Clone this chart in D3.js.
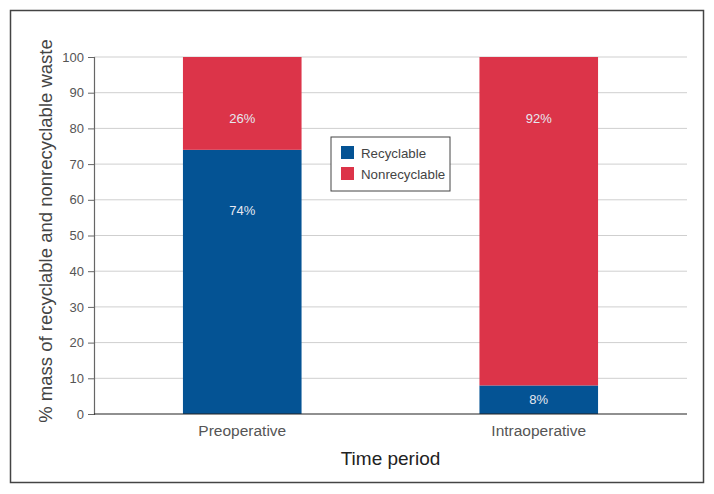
<!DOCTYPE html>
<html>
<head>
<meta charset="utf-8">
<script src="https://cdn.jsdelivr.net/npm/d3@7"></script>
<style>
  body { margin: 0; background: #fff; }
  svg text { font-family: "Liberation Sans", Arial, sans-serif; }
</style>
</head>
<body>
<div id="chart"></div>
<script>
// data
const periods = ["Preoperative", "Intraoperative"];
const recyclable = [74, 8];
const nonrecyclable = [26, 92];
const seriesNames = ["Recyclable", "Nonrecyclable"];
const yTicks = [0, 10, 20, 30, 40, 50, 60, 70, 80, 90, 100];

const width = 714, height = 494;
const margin = { left: 94, right: 27, top: 57, bottom: 80 };
const colors = { Recyclable: "#045394", Nonrecyclable: "#dc3449" };

const svg = d3.select("#chart")
    .append("svg")
    .attr("width", width)
    .attr("height", height);

// outer frame
svg.append("rect")
    .attr("x", 10.5).attr("y", 10.5)
    .attr("width", 693).attr("height", 472)
    .attr("fill", "none")
    .attr("stroke", "#444")
    .attr("stroke-width", 1.5);

const x = d3.scaleBand()
    .domain(periods)
    .range([margin.left, width - margin.right])
    .paddingInner(0.6)
    .paddingOuter(0.3);

const y = d3.scaleLinear()
    .domain([0, 100])
    .range([height - margin.bottom, margin.top]);

// gridlines
svg.append("g")
    .selectAll("line")
    .data(yTicks.filter(d => d > 0))
    .enter()
    .append("line")
    .attr("x1", margin.left)
    .attr("x2", width - margin.right)
    .attr("y1", d => y(d))
    .attr("y2", d => y(d))
    .attr("stroke", "#cfcfcf")
    .attr("stroke-width", 1);

// stacked data
const rows = periods.map((p, i) => ({ period: p, Recyclable: recyclable[i], Nonrecyclable: nonrecyclable[i] }));
const stack = d3.stack().keys(seriesNames)(rows);

const layers = svg.append("g")
    .selectAll("g")
    .data(stack)
    .enter()
    .append("g")
    .attr("fill", d => colors[d.key]);

layers.selectAll("rect")
    .data(d => d)
    .enter()
    .append("rect")
    .attr("x", d => x(d.data.period))
    .attr("width", x.bandwidth())
    .attr("y", d => y(d[1]))
    .attr("height", d => y(d[0]) - y(d[1]));

// value labels: near the top of tall segments, centred in short ones
layers.selectAll("text")
    .data(d => d)
    .enter()
    .append("text")
    .attr("x", d => x(d.data.period) + x.bandwidth() / 2)
    .attr("y", d => {
        const h = y(d[0]) - y(d[1]);
        return h > 60 ? y(d[1]) + 61 : y(d[1]) + h / 2;
    })
    .attr("dy", "0.35em")
    .attr("text-anchor", "middle")
    .attr("fill", "#e6e8f0")
    .attr("font-size", 13)
    .text(d => (d[1] - d[0]) + "%");

// y axis
const yAxis = svg.append("g")
    .attr("transform", `translate(${margin.left},0)`)
    .call(d3.axisLeft(y).tickValues(yTicks).tickSize(6).tickPadding(4));
yAxis.select(".domain").attr("stroke", "#666").attr("stroke-width", 1.2);
yAxis.selectAll(".tick line").attr("stroke", "#666");
yAxis.selectAll(".tick text")
    .attr("font-size", 13)
    .attr("fill", "#555")
    .style("font-family", "Liberation Sans, Arial, sans-serif");

// x axis
const xAxis = svg.append("g")
    .attr("transform", `translate(0,${height - margin.bottom})`)
    .call(d3.axisBottom(x).tickSize(0).tickPadding(11));
xAxis.select(".domain").attr("stroke", "#222").attr("stroke-width", 1.2)
    .attr("d", `M${margin.left},0H${width - margin.right}`);
xAxis.selectAll(".tick text")
    .attr("font-size", 15.5)
    .attr("fill", "#555")
    .style("font-family", "Liberation Sans, Arial, sans-serif");

// axis titles
svg.append("text")
    .attr("x", (margin.left + width - margin.right) / 2)
    .attr("y", 465)
    .attr("text-anchor", "middle")
    .attr("font-size", 19)
    .attr("fill", "#222")
    .text("Time period");

svg.append("text")
    .attr("transform", `translate(52,231) rotate(-90)`)
    .attr("text-anchor", "middle")
    .attr("font-size", 18.5)
    .attr("fill", "#444")
    .text("% mass of recyclable and nonrecyclable waste");

// legend
const legend = svg.append("g").attr("transform", "translate(331,137)");
legend.append("rect")
    .attr("width", 119).attr("height", 54)
    .attr("fill", "#fff")
    .attr("stroke", "#444")
    .attr("stroke-width", 1);
const items = legend.selectAll(".item")
    .data(seriesNames)
    .enter()
    .append("g")
    .attr("transform", (d, i) => `translate(10,${9 + i * 21})`);
items.append("rect")
    .attr("width", 13).attr("height", 13)
    .attr("fill", d => colors[d]);
items.append("text")
    .attr("x", 20).attr("y", 7)
    .attr("dy", "0.35em")
    .attr("font-size", 13.3)
    .attr("fill", "#444")
    .text(d => d);
</script>
</body>
</html>
